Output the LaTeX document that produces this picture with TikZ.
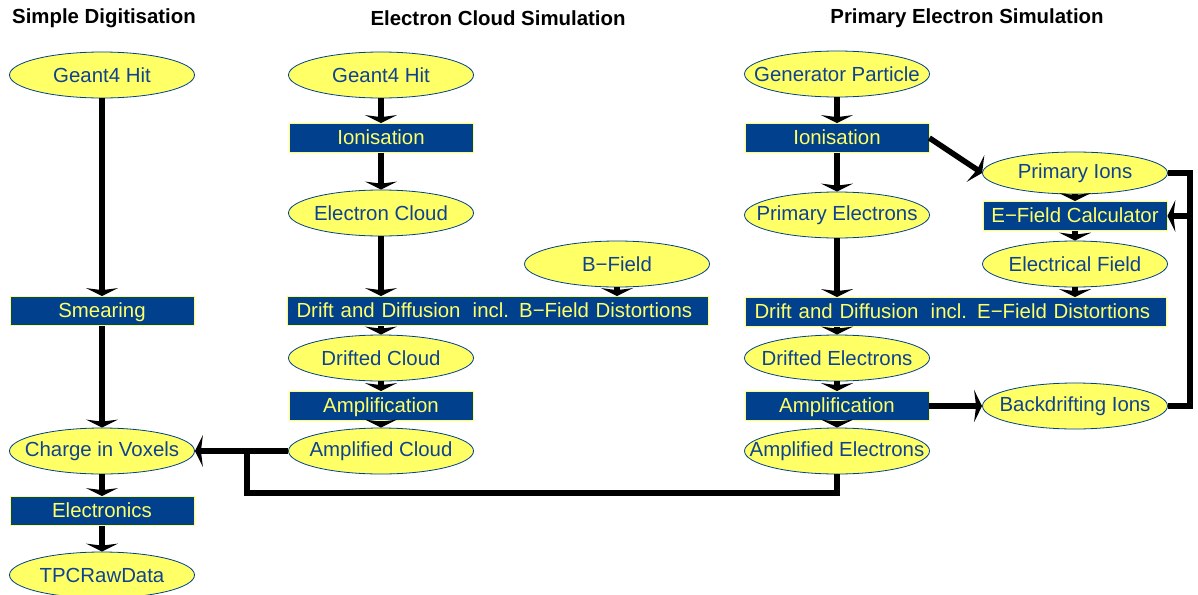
\documentclass[tikz,border=0pt]{standalone}
\usepackage{fontspec}
\setmainfont{Liberation Sans}
\usetikzlibrary{shapes.geometric,arrows.meta}

\definecolor{boxblue}{RGB}{0,64,140}
\definecolor{blobyellow}{RGB}{255,255,102}
\definecolor{blobtext}{RGB}{16,66,146}

\begin{document}
\begin{tikzpicture}[x=0.5pt,y=-0.5pt,
  font=\fontsize{10.2}{12}\selectfont,
  blob/.style={ellipse,draw=boxblue,line width=0.4pt,fill=blobyellow,text=blobtext,
    minimum width=92.5pt,minimum height=23pt,inner xsep=-13pt,inner ysep=0pt},
  stage/.style={rectangle,draw=blobyellow,line width=0.4pt,fill=boxblue,text=blobyellow,
    minimum width=92pt,minimum height=14.5pt,inner sep=1pt,text depth=0.5pt},
  widestage/.style={stage,text width=201.5pt,align=left,inner xsep=4.5pt},
  title/.style={font=\fontsize{10.2}{12}\selectfont\bfseries},
  flow/.style={line width=2.8pt,-{Stealth[length=4pt,width=16pt,inset=1pt]}},
  pipe/.style={line width=2.8pt}]

\useasboundingbox (0,0) rectangle (1198,594);

\def\xa{102}
\def\xb{381}
\def\xc{837}
\def\xd{1075}

%=== Titles ===
\node[title] (t1) at (104,18) {Simple Digitisation};
\node[title] (t2) at (498,18) {Electron Cloud Simulation};
\node[title] (t3) at (967,18) {Primary Electron Simulation};

%=== Simple Digitisation ===
\node[blob]  (hitA)    at (\xa,75)  {Geant4 Hit};
\node[stage] (smear)   at (\xa,311) {Smearing};
\node[blob]  (charge)  at (\xa,451) {Charge in Voxels};
\node[stage] (elec)    at (\xa,511) {Electronics};
\node[blob]  (raw)     at (\xa,575) {TPCRawData};

\draw[flow] (hitA) -- (smear);
\draw[flow] (smear) -- (charge);
\draw[flow] (charge) -- (elec);
\draw[flow] (elec) -- (raw);

%=== Electron Cloud Simulation ===
\node[blob]  (hitB)    at (\xb,75)  {Geant4 Hit};
\node[stage] (ionB)    at (\xb,138) {Ionisation};
\node[blob]  (cloud)   at (\xb,213) {Electron Cloud};
\node[blob]  (bfield)  at (617,264) {B−Field};
\node[widestage] (driftB) at (498,311)
  {Drift and Diffusion\hspace{0.6em}incl. B−Field Distortions};
\node[blob]  (dcloud)  at (\xb,358) {Drifted Cloud};
\node[stage] (ampB)    at (\xb,406) {Amplification};
\node[blob]  (acloud)  at (\xb,451) {Amplified Cloud};

\draw[flow] (hitB) -- (ionB);
\draw[flow] (ionB) -- (cloud);
\draw[flow] (cloud) -- (cloud |- driftB.north);
\draw[flow] (bfield) -- (bfield |- driftB.north);
\draw[flow] (dcloud |- driftB.south) -- (dcloud);
\draw[flow] (dcloud) -- (ampB);
\draw[flow] (ampB) -- (acloud);

%=== Primary Electron Simulation ===
\node[blob]  (gen)     at (\xc,74)  {Generator Particle};
\node[stage] (ionC)    at (\xc,138) {Ionisation};
\node[blob]  (pelec)   at (\xc,215) {Primary Electrons};
\node[widestage] (driftE) at (956,312)
  {Drift and Diffusion\hspace{0.6em}incl. E−Field Distortions};
\node[blob]  (delec)   at (\xc,358) {Drifted Electrons};
\node[stage] (ampC)    at (\xc,406) {Amplification};
\node[blob]  (aelec)   at (\xc,451) {Amplified Electrons};

\node[blob,minimum height=21pt] (pions) at (\xd,173) {Primary Ions};
\node[stage] (ecalc)   at (\xd,216) {E−Field Calculator};
\node[blob]  (efield)  at (\xd,264) {Electrical Field};
\node[blob]  (bions)   at (\xd,406) {Backdrifting Ions};

\draw[flow] (gen) -- (ionC);
\draw[flow] (ionC) -- (pelec);
\draw[flow] (pelec) -- (pelec |- driftE.north);
\draw[flow] (delec |- driftE.south) -- (delec);
\draw[flow] (delec) -- (ampC);
\draw[flow] (ampC) -- (aelec);

\draw[flow] (ionC.east) -- (pions.west);
\draw[flow] (pions) -- (ecalc);
\draw[flow] (ecalc) -- (efield);
\draw[flow] (efield) -- (efield |- driftE.north);
\draw[flow] (ampC) -- (bions);

% Rueckkopplung der Ionen
\coordinate (rail) at (1190,216);
\draw[pipe] (pions.east) -| (rail) |- (bions.east);
\draw[flow] (rail) -- (ecalc.east);

% Verbindung zu Charge in Voxels
\coordinate (jtop) at (247,451);
\coordinate (jbot) at (247,493);
\draw[pipe] (aelec.south) |- (jbot) -- (jtop);
\draw[flow] (acloud) -- (charge);

\end{tikzpicture}
\end{document}
